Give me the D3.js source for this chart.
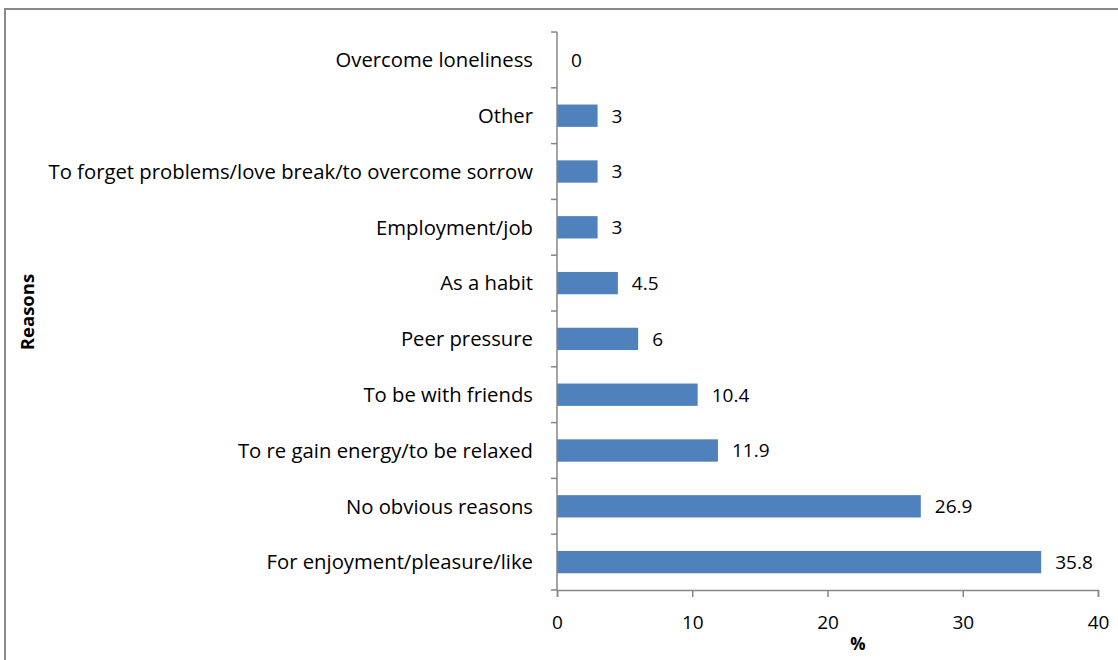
<!DOCTYPE html>
<html>
<head>
<meta charset="utf-8">
<script src="https://cdn.jsdelivr.net/npm/d3@7"></script>
<style>
  html, body { margin: 0; padding: 0; background: #fff; }
  svg { display: block; }
  text { font-family: "Open Sans", Lato, sans-serif; fill: #000; }
</style>
</head>
<body>
<svg id="chart" width="1118" height="660"></svg>
<script>
// Reasons listed top to bottom, with their share in percent
const categories = [
  "Overcome loneliness",
  "Other",
  "To forget problems/love break/to overcome sorrow",
  "Employment/job",
  "As a habit",
  "Peer pressure",
  "To be with friends",
  "To re gain energy/to be relaxed",
  "No obvious reasons",
  "For enjoyment/pleasure/like"
];
const values = [0, 3, 3, 3, 4.5, 6, 10.4, 11.9, 26.9, 35.8];
const xTicks = [0, 10, 20, 30, 40];
const xTitle = "%";
const yTitle = "Reasons";

const svg = d3.select("#chart");
const W = 1118, H = 660;
const fontSize = 20.3;

// outer frame
svg.append("rect")
  .attr("x", 5).attr("y", 9)
  .attr("width", W + 10).attr("height", H + 10)
  .attr("fill", "none").attr("stroke", "#8a8a8a").attr("stroke-width", 2);

const x = d3.scaleLinear().domain([0, 40]).range([557, 1098]);
const y = d3.scaleBand().domain(categories).range([32, 590]).paddingInner(0.6).paddingOuter(0.3);
const step = y.step();

const axisColor = "#868686";

// bars
svg.append("g").selectAll("rect")
  .data(categories)
  .join("rect")
  .attr("x", x(0))
  .attr("y", d => y(d))
  .attr("width", (d, i) => x(values[i]) - x(0))
  .attr("height", y.bandwidth())
  .attr("fill", "#4F81BD");

// value labels
svg.append("g").selectAll("text")
  .data(categories)
  .join("text")
  .attr("x", (d, i) => x(values[i]) + 14)
  .attr("y", d => y(d) + y.bandwidth() / 2)
  .attr("dy", "0.36em")
  .attr("font-size", 19)
  .text((d, i) => values[i]);

// category axis: line plus boundary ticks between bands
const yAxis = svg.append("g");
yAxis.append("line")
  .attr("x1", x(0)).attr("x2", x(0))
  .attr("y1", 32).attr("y2", 590)
  .attr("stroke", axisColor).attr("stroke-width", 1.5);
d3.range(categories.length + 1).forEach(i => {
  const yy = 32 + i * step;
  yAxis.append("line")
    .attr("x1", x(0) - 6).attr("x2", x(0))
    .attr("y1", yy).attr("y2", yy)
    .attr("stroke", axisColor).attr("stroke-width", 1.5);
});
yAxis.selectAll("text.cat")
  .data(categories)
  .join("text")
  .attr("class", "cat")
  .attr("x", x(0) - 24)
  .attr("y", d => y(d) + y.bandwidth() / 2)
  .attr("dy", "0.36em")
  .attr("text-anchor", "end")
  .attr("font-size", fontSize)
  .text(d => d);

// value axis
const xAxis = svg.append("g").attr("transform", "translate(0,590)")
  .call(d3.axisBottom(x).tickValues(xTicks).tickSize(7).tickPadding(19).tickFormat(d3.format("d")));
xAxis.select(".domain").attr("stroke", axisColor).attr("stroke-width", 1.5);
xAxis.selectAll(".tick line").attr("stroke", axisColor).attr("stroke-width", 1.5);
xAxis.selectAll(".tick text")
  .attr("font-family", "'Open Sans', Lato, sans-serif")
  .attr("font-size", 19).attr("fill", "#000");

// axis titles
svg.append("text")
  .attr("x", 858).attr("y", 650)
  .attr("text-anchor", "middle")
  .attr("font-size", 17).attr("font-weight", "bold")
  .text(xTitle);

svg.append("text")
  .attr("transform", "translate(34,312) rotate(-90)")
  .attr("text-anchor", "middle")
  .attr("font-size", 18.5).attr("font-weight", "bold")
  .text(yTitle);
</script>
</body>
</html>
